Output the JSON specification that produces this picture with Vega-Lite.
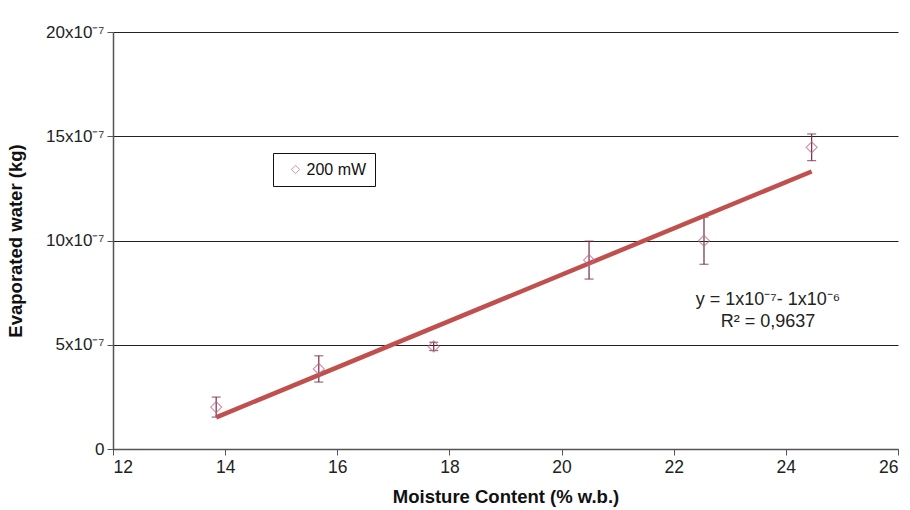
{
  "$schema": "https://vega.github.io/schema/vega-lite/v6.json",
  "width": 785,
  "height": 417,
  "autosize": "none",
  "padding": {"left": 113, "top": 32, "right": 12, "bottom": 61},
  "background": "white",
  "config": {
    "view": {"stroke": null},
    "font": "Liberation Sans",
    "axis": {"labelFont": "Liberation Sans", "titleFont": "Liberation Sans", "labelColor": "#222", "titleColor": "#111"}
  },
  "datasets": {
    "obs": [
      {"moisture": 13.84, "water": 2.01e-7, "lo": 1.53e-7, "hi": 2.49e-7},
      {"moisture": 15.67, "water": 3.84e-7, "lo": 3.21e-7, "hi": 4.47e-7},
      {"moisture": 17.72, "water": 4.92e-7, "lo": 4.72e-7, "hi": 5.12e-7},
      {"moisture": 20.49, "water": 9.06e-7, "lo": 8.15e-7, "hi": 9.97e-7},
      {"moisture": 22.54, "water": 9.99e-7, "lo": 8.86e-7, "hi": 11.12e-7},
      {"moisture": 24.46, "water": 14.47e-7, "lo": 13.83e-7, "hi": 15.11e-7}
    ],
    "trend": [
      {"moisture": 13.84, "water": 1.52e-7},
      {"moisture": 24.46, "water": 13.31e-7}
    ],
    "notes": [
      {"moisture": 23.68, "water": 7.15e-7, "label": "y = 1x10⁻⁷- 1x10⁻⁶"},
      {"moisture": 23.68, "water": 6.1e-7, "label": "R² = 0,9637"}
    ]
  },
  "layer": [
    {
      "data": {"name": "obs"},
      "mark": {"type": "errorbar", "ticks": {"size": 9, "color": "#7a2848"}, "color": "#7a2848", "thickness": 1.2},
      "encoding": {
        "x": {"field": "moisture", "type": "quantitative",
              "scale": {"domain": [12, 26], "nice": false, "zero": false},
              "axis": {"values": [12, 14, 16, 18, 20, 22, 24, 26], "format": "d", "title": "Moisture Content (% w.b.)",
                       "grid": false, "domainColor": "#555", "domainWidth": 1.5, "tickColor": "#555", "tickSize": 6,
                       "labelFontSize": 17.5, "labelPadding": 3, "titleFontSize": 18.5, "titleFontWeight": "bold", "titlePadding": 12}},
        "y": {"field": "lo", "type": "quantitative",
              "scale": {"domain": [0, 2e-6], "nice": false},
              "axis": {"values": [0, 5e-7, 1e-6, 1.5e-6, 2e-6], "title": "Evaporated water (kg)",
                       "labelExpr": "datum.value == 0 ? '0' : format(round(datum.value*1e7), 'd') + 'x10⁻⁷'",
                       "grid": true, "gridColor": "#222", "gridWidth": 1, "gridOpacity": 1,
                       "domainColor": "#555", "domainWidth": 1.5, "tickColor": "#555", "tickSize": 6,
                       "labelFontSize": 17, "labelPadding": 3, "titleFontSize": 18.5, "titleFontWeight": "bold", "titlePadding": 20}},
        "y2": {"field": "hi"}
      }
    },
    {
      "data": {"name": "trend"},
      "mark": {"type": "line", "color": "#c0504d", "strokeWidth": 4.5, "strokeCap": "butt"},
      "encoding": {
        "x": {"field": "moisture", "type": "quantitative"},
        "y": {"field": "water", "type": "quantitative"}
      }
    },
    {
      "data": {"name": "obs"},
      "mark": {"type": "point", "shape": "diamond", "filled": false, "size": 120, "strokeWidth": 1.2},
      "encoding": {
        "x": {"field": "moisture", "type": "quantitative"},
        "y": {"field": "water", "type": "quantitative"},
        "color": {"datum": "200 mW", "type": "nominal",
                  "scale": {"range": ["#b86c88"]},
                  "legend": {"title": null, "orient": "none", "legendX": 160, "legendY": 121,
                             "strokeColor": "#111", "fillColor": "white", "padding": 8.5,
                             "labelFontSize": 16, "labelColor": "#111", "symbolType": "diamond", "symbolSize": 70,
                             "symbolStrokeWidth": 1, "symbolOffset": 6, "labelOffset": 3,
                             "labelExpr": "datum.label + '   '"}}
      }
    },
    {
      "data": {"name": "notes"},
      "mark": {"type": "text", "fontSize": 18, "color": "#222", "align": "center", "baseline": "middle"},
      "encoding": {
        "x": {"field": "moisture", "type": "quantitative"},
        "y": {"field": "water", "type": "quantitative"},
        "text": {"field": "label"}
      }
    }
  ]
}
